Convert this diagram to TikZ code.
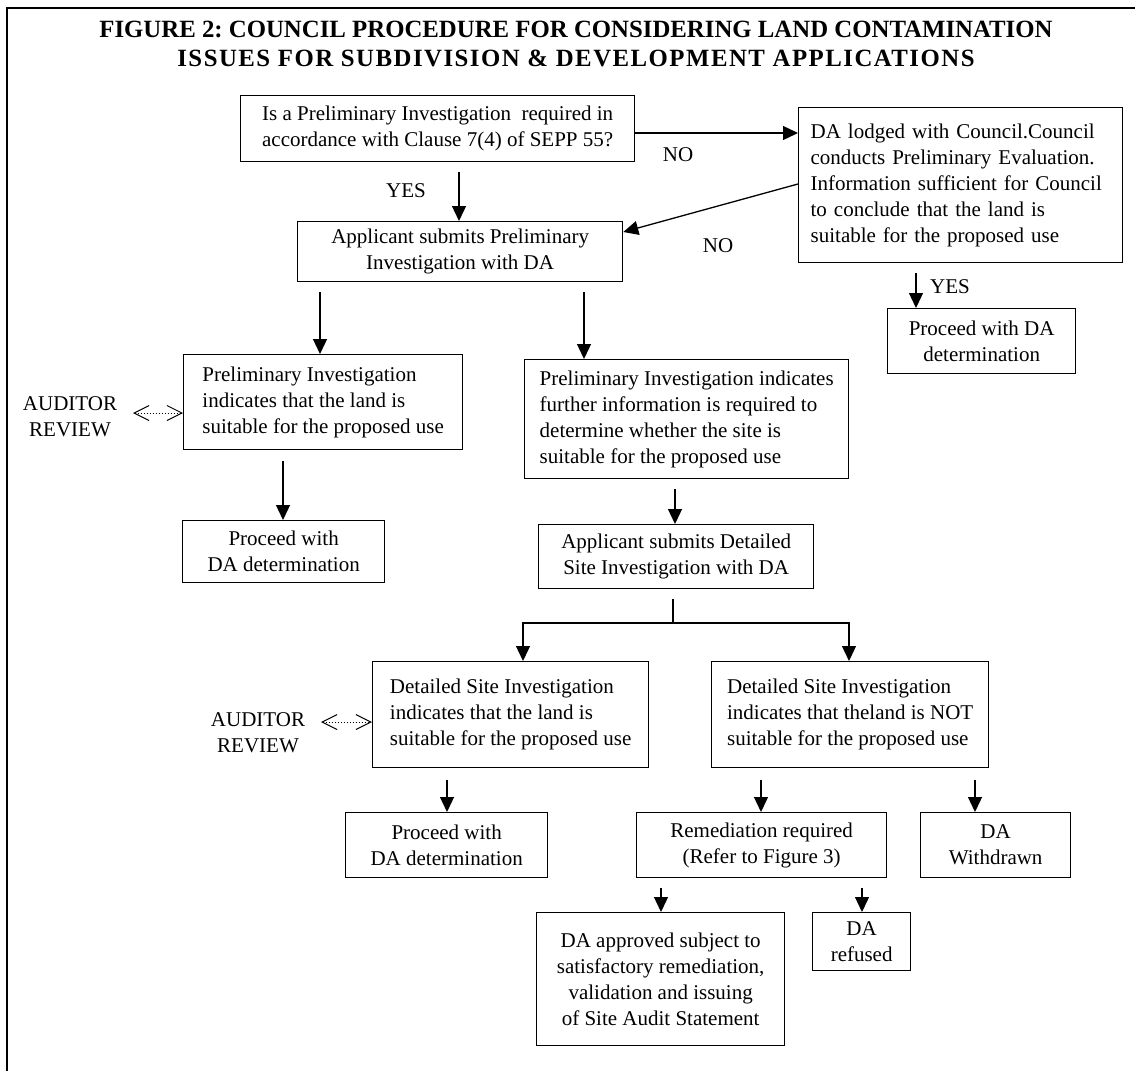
\documentclass[tikz,border=0pt]{standalone}
\usepackage{fontspec}
\setmainfont{Liberation Serif}
\usetikzlibrary{arrows.meta,calc}
\frenchspacing
\begin{document}
\begin{tikzpicture}[x=1pt,y=-1pt,
  txt/.style={font=\fontsize{21}{26}\selectfont},
  box/.style={draw,line width=1.3pt,inner ysep=0pt,inner xsep=0pt,anchor=north west,txt},
  arr/.style={line width=1.3pt,-{Triangle[length=15pt,width=14pt]}},
  ln/.style={line width=1.3pt},
  aud/.style={line width=1pt,dotted,{Straight Barb[length=15pt,width=15pt,line width=1pt]}-{Straight Barb[length=15pt,width=15pt,line width=1pt]}},
  lbl/.style={txt,inner sep=0pt,align=center},
  ttl/.style={font=\fontsize{24.8}{29}\selectfont\bfseries,inner sep=0pt}]
\useasboundingbox (0,0) rectangle (1135,1071);
% frame
\draw[line width=1.5pt] (7,1071) -- (7,8) -- (1135,8);
% title
\node[ttl] (title1) at (576,29) {FIGURE 2: COUNCIL PROCEDURE FOR CONSIDERING LAND CONTAMINATION};
\node[ttl] (title2) at (576,58) {\addfontfeature{LetterSpace=6}ISSUES FOR SUBDIVISION \& DEVELOPMENT APPLICATIONS};
% boxes
\node[box,minimum width=394pt,minimum height=66pt,align=left] (q) at (240,95)
  {Is a Preliminary Investigation~ required in\\accordance with Clause 7(4) of SEPP 55?};
\node[box,inner xsep=12pt,text width=300pt,minimum height=155pt,align=left] (da) at (798,107)
  {DA lodged with Council.Council\\conducts Preliminary Evaluation.\\Information sufficient for Council\\to conclude that the land is\\suitable for the proposed use};
\node[box,minimum width=325pt,minimum height=60pt,align=center] (b2) at (297,221)
  {Applicant submits Preliminary\\Investigation with DA};
\node[box,minimum width=188pt,minimum height=65pt,align=center] (p1) at (887,308)
  {Proceed with DA\\determination};
\node[box,minimum width=279pt,minimum height=95pt,align=left] (b3l) at (183,354)
  {Preliminary Investigation\\indicates that the land is\\suitable for the proposed use};
\node[box,minimum width=324pt,minimum height=119pt,align=left] (b3r) at (524,359)
  {Preliminary Investigation indicates\\further information is required to\\determine whether the site is\\suitable for the proposed use};
\node[box,minimum width=202pt,minimum height=62pt,align=center] (p2) at (182,520)
  {Proceed with\\DA determination};
\node[box,minimum width=275pt,minimum height=64pt,align=center] (b5) at (538,524)
  {Applicant submits Detailed\\Site Investigation with DA};
\node[box,minimum width=276pt,minimum height=106pt,align=left] (b4l) at (372,661)
  {Detailed Site Investigation\\indicates that the land is\\suitable for the proposed use};
\node[box,minimum width=277pt,minimum height=106pt,align=left] (b4r) at (711,661)
  {Detailed Site Investigation\\indicates that theland is NOT\\suitable for the proposed use};
\node[box,minimum width=202pt,minimum height=65pt,align=center] (p3) at (345,812)
  {Proceed with\\DA determination};
\node[box,minimum width=250pt,minimum height=65pt,align=center] (rem) at (636,812)
  {Remediation required\\(Refer to Figure 3)};
\node[box,minimum width=150pt,minimum height=65pt,align=center] (wd) at (920,812)
  {DA\\Withdrawn};
\node[box,minimum width=248pt,minimum height=133pt,align=center] (apr) at (536,912)
  {DA approved subject to\\satisfactory remediation,\\validation and issuing\\of Site Audit Statement};
\node[box,minimum width=98pt,minimum height=58pt,align=center] (ref) at (812,912)
  {DA\\refused};
% auditor labels
\node[lbl] (au1) at (70,417) {AUDITOR\\REVIEW};
\node[lbl] (au2) at (258,733) {AUDITOR\\REVIEW};
\draw[aud] (133,413) coordinate (a1) -- (a1 -| b3l.west);
\draw[aud] (321,722) coordinate (a2) -- (a2 -| b4l.west);
% connectors
\draw[arr] (q.east |- 0,133) -- (da.west |- 0,133);
\node[lbl] (no1) at (678,155) {NO};
\draw[arr] (da.west |- 0,184) -- (b2.east |- 0,232);
\node[lbl] (no2) at (718,246) {NO};
\draw[arr] ([yshift=-10pt]q.south -| 459,0) -- (b2.north -| 459,0);
\node[lbl] (yes1) at (406,191) {YES};
\draw[arr] ([yshift=-10pt]da.south -| 916,0) -- (p1.north -| 916,0);
\node[lbl] (yes2) at (950,287) {YES};
\draw[arr] ([yshift=-10pt]b2.south -| 320,0) -- (b3l.north -| 320,0);
\draw[arr] ([yshift=-10pt]b2.south -| 584,0) -- (b3r.north -| 584,0);
\draw[arr] ([yshift=-11pt]b3l.south -| 283,0) -- (p2.north -| 283,0);
\draw[arr] ([yshift=-10pt]b3r.south -| 675,0) -- (b5.north -| 675,0);
\draw[ln] ([yshift=-10pt]b5.south -| 673,0) -- (673,623) coordinate (split);
\draw[arr] (split) -| (b4l.north -| 523,0);
\draw[arr] (split) -| (b4r.north -| 849,0);
\draw[arr] ([yshift=-12pt]b4l.south -| 447,0) -- (p3.north -| 447,0);
\draw[arr] ([yshift=-12pt]b4r.south -| 761,0) -- (rem.north -| 761,0);
\draw[arr] ([yshift=-12pt]b4r.south -| 975,0) -- (wd.north -| 975,0);
\draw[arr] ([yshift=-10pt]rem.south -| 661,0) -- (apr.north -| 661,0);
\draw[arr] ([yshift=-10pt]rem.south -| 862,0) -- (ref.north -| 862,0);
\end{tikzpicture}
\end{document}
